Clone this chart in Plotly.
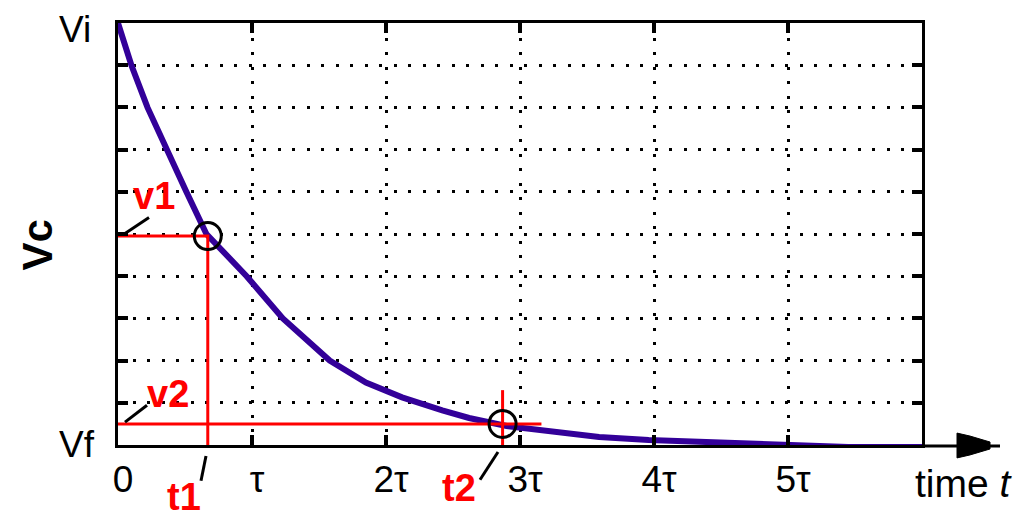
import plotly.graph_objects as go

# ---- data (time in units of tau, voltage normalised Vf=0 .. Vi=1)
t_curve = [0.0, 0.1, 0.22, 0.36, 0.51, 0.66, 0.96, 1.23, 1.58, 1.85, 2.12, 2.42, 2.62,
           2.9, 3.19, 3.34, 3.59, 3.96, 4.4, 4.76, 5.1, 5.45, 6.0]
vc_curve = [1.0, 0.9, 0.8, 0.7, 0.6, 0.5, 0.4, 0.3, 0.2, 0.148, 0.113, 0.082, 0.064,
            0.045, 0.035, 0.028, 0.019, 0.012, 0.006, 0.002, 0.0, -0.005, -0.005]

t1, v1 = 0.67, 0.495
t2, v2 = 2.87, 0.05
v2_line_end = 3.16
t2_line_top = 0.13

x_tickvals = [0, 1, 2, 3, 4, 5]
x_ticktext = ["0", "τ", "2τ", "3τ", "4τ", "5τ"]
y_tickvals = [0, 0.1, 0.2, 0.3, 0.4, 0.5, 0.6, 0.7, 0.8, 0.9, 1.0]

FONT = "Liberation Sans"
PURPLE = "#330099"
RED = "#ff0000"

# page offset (body margin) and plot area in page pixels
OFF = 8
L, R, T, B = 118, 922, 20, 445
W, H = 1033, 519


def px(x):
    return (x - L) / (R - L)


def py(y):
    return (B - y) / (B - T)


fig = go.Figure()

fig.add_trace(go.Scatter(x=t_curve, y=vc_curve, mode="lines",
                         line=dict(color=PURPLE, width=6), hoverinfo="skip"))

# red construction lines
fig.add_trace(go.Scatter(x=[0, t1, t1], y=[v1, v1, 0], mode="lines",
                         line=dict(color=RED, width=3), hoverinfo="skip"))
fig.add_trace(go.Scatter(x=[0, v2_line_end, None, t2, t2], y=[v2, v2, None, t2_line_top, 0],
                         mode="lines", line=dict(color=RED, width=3), hoverinfo="skip"))

# circles
fig.add_trace(go.Scatter(x=[t1, t2], y=[v1, v2], mode="markers",
                         marker=dict(symbol="circle-open", size=27, color="black",
                                     line=dict(width=3)),
                         hoverinfo="skip"))

shapes = []
# leader slashes
for (xa, ya, xb, yb) in [(125, 232, 149, 216), (125, 422, 147, 405),
                         (206, 456, 201, 481), (498, 452, 480, 480)]:
    shapes.append(dict(type="line", xref="paper", yref="paper",
                       x0=px(xa), y0=py(ya), x1=px(xb), y1=py(yb),
                       line=dict(color="black", width=3)))
# axis extension with arrow
shapes.append(dict(type="line", xref="paper", yref="paper",
                   x0=1, y0=py(446), x1=px(1000), y1=py(446), line=dict(color="black", width=3)))
shapes.append(dict(type="path", xref="paper", yref="paper",
                   path=f"M {px(957)} {py(433)} L {px(970)} {py(436)} L {px(990)} {py(442)} "
                        f"L {px(990)} {py(449)} L {px(970)} {py(455)} L {px(957)} {py(458)} Z",
                   fillcolor="black", line=dict(color="black", width=1)))


def ann(xp, yp, text, size, color="black", bold=False, angle=0):
    return dict(xref="paper", yref="paper", x=px(xp), y=py(yp),
                text=f"<b>{text}</b>" if bold else text, textangle=angle,
                showarrow=False, xanchor="center", yanchor="middle",
                font=dict(family=FONT, size=size, color=color))


annotations = [
    ann(154, 194, "v1", 38, RED, True),
    ann(168, 394, "v2", 38, RED, True),
    ann(184, 497, "t1", 38, RED, True),
    ann(459, 488, "t2", 38, RED, True),
    ann(964, 484, "time <i>t</i>", 39),
    ann(75, 27, "Vi", 37),
    ann(77, 444, "Vf", 37),
    ann(37, 244, "Vc", 42, bold=True, angle=-90),
]

fig.update_layout(
    width=W, height=H, autosize=False,
    margin=dict(l=L - OFF, r=W - R + OFF, t=T - OFF, b=H - B + OFF, pad=0),
    paper_bgcolor="white", plot_bgcolor="white",
    showlegend=False,
    shapes=shapes, annotations=annotations,
    xaxis=dict(range=[0, 6], tickvals=x_tickvals, ticktext=x_ticktext,
               ticks="inside", ticklen=10, tickwidth=4, tickcolor="black",
               showline=True, linewidth=3, linecolor="black", mirror="ticks",
               showgrid=True, gridcolor="black", gridwidth=3, griddash="3px,11.5px",
               zeroline=False, fixedrange=True, ticklabeloverflow="allow",
               ticklabelshift=5,
               tickfont=dict(family=FONT, size=37, color="black")),
    yaxis=dict(range=[0, 1], tickvals=y_tickvals, showticklabels=False,
               ticks="inside", ticklen=10, tickwidth=4, tickcolor="black",
               showline=True, linewidth=3, linecolor="black", mirror="ticks",
               showgrid=True, gridcolor="black", gridwidth=3, griddash="3px,11.5px",
               zeroline=False, fixedrange=True),
)

fig.write_html("out.html")
